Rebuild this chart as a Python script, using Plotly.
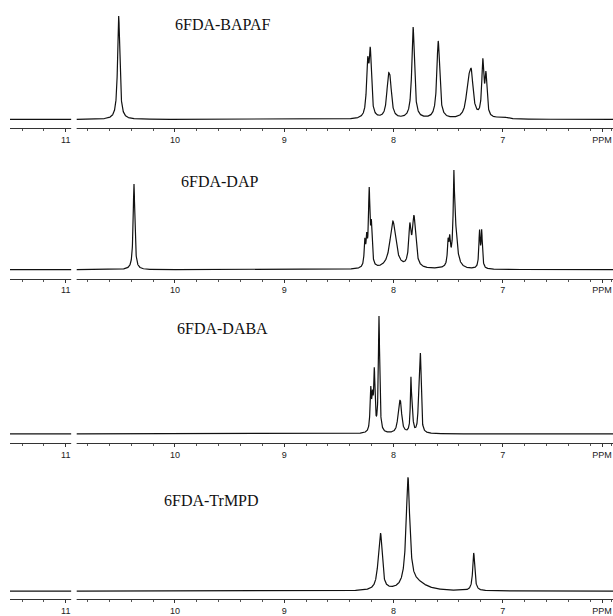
import numpy as np
import plotly.graph_objects as go

# ---------------- data ----------------
titles = ["6FDA-BAPAF", "6FDA-DAP", "6FDA-DABA", "6FDA-TrMPD"]

tick_vals = [11, 10, 9, 8, 7, 6.09]
tick_text = ["11", "10", "9", "8", "7", "PPM"]
ppm_start, ppm_end = 11.51, 5.99
scan_gap_ppm = (10.95, 10.90)

# peak tables: chemical shift (ppm), height (a.u.), half width (ppm)
bapaf_ppm = [10.515, 8.236, 8.212, 8.048, 8.030, 7.82, 7.59, 7.315, 7.287, 7.182, 7.153, 7.0]
bapaf_height = [104, 50, 62, 32, 28, 92, 78, 30, 38, 54, 40, 2]
bapaf_width = [0.012, 0.012, 0.012, 0.016, 0.016, 0.014, 0.015, 0.022, 0.020, 0.011, 0.011, 0.05]

dap_ppm = [10.375, 8.262, 8.245, 8.222, 8.202, 8.005, 7.85, 7.812, 7.50, 7.485, 7.447, 7.437, 7.212, 7.192]
dap_height = [86, 24, 24, 74, 38, 48, 36, 50, 22, 22, 62, 44, 36, 36]
dap_width = [0.009, 0.007, 0.007, 0.008, 0.008, 0.032, 0.012, 0.018, 0.007, 0.007, 0.006, 0.022, 0.007, 0.007]

daba_ppm = [8.208, 8.192, 8.175, 8.132, 7.949, 7.934, 7.840, 7.828, 7.766, 7.753]
daba_height = [40, 28, 58, 116, 22, 22, 50, 22, 46, 70]
daba_width = [0.007, 0.007, 0.007, 0.007, 0.013, 0.013, 0.006, 0.007, 0.007, 0.007]

trmpd_ppm = [8.135, 8.117, 7.867, 7.78, 7.265]
trmpd_height = [16, 48, 110, 7, 38]
trmpd_width = [0.02, 0.016, 0.020, 0.10, 0.011]

peak_tables = [
    (bapaf_ppm, bapaf_height, bapaf_width),
    (dap_ppm, dap_height, dap_width),
    (daba_ppm, daba_height, daba_width),
    (trmpd_ppm, trmpd_height, trmpd_width),
]

# ---------------- layout (pixel geometry) ----------------
W, H = 613, 616
# per panel: top of plot area, axis-line y, baseline y (pixels from top)
panel_top = [0, 150, 300, 460]
panel_axis = [129, 280, 445, 602]
panel_base = [120, 271, 436, 594]
title_xy = [(223, 25), (219, 182), (222, 330), (211, 503)]

x = np.linspace(ppm_start, ppm_end, 5000)

fig = go.Figure()
for i, (pp, hh, ww) in enumerate(peak_tables):
    y = np.zeros_like(x)
    for p, h, w in zip(pp, hh, ww):
        y += h * w * w / ((x - p) ** 2 + w * w)
    y[(x < scan_gap_ppm[0]) & (x > scan_gap_ppm[1])] = np.nan
    n = "" if i == 0 else str(i + 1)
    fig.add_trace(go.Scatter(x=x, y=y, mode="lines", xaxis="x" + n, yaxis="y" + n,
                             line=dict(color="#111111", width=1.2), connectgaps=False,
                             showlegend=False, hoverinfo="skip"))
    top, ax_y, base = panel_top[i], panel_axis[i], panel_base[i]
    dom = [1 - ax_y / H, 1 - top / H]
    off = ax_y - base
    fig.layout["xaxis" + n] = dict(
        domain=[10 / W, 1], range=[ppm_start, ppm_end], anchor="y" + n,
        showline=True, linecolor="#333333", linewidth=1, showgrid=False, zeroline=False,
        tickmode="array", tickvals=tick_vals, ticktext=tick_text,
        ticks="outside", ticklen=3, tickcolor="#333333", tickwidth=1,
        minor=dict(dtick=0.2, ticks="outside", ticklen=2, tickcolor="#555555", showgrid=False),
        tickfont=dict(family="Liberation Sans", size=9, color="#222222"),
    )
    fig.layout["yaxis" + n] = dict(
        domain=dom, range=[-off, (ax_y - top) - off], anchor="x" + n,
        visible=False, showgrid=False, zeroline=False,
    )
    tx, ty = title_xy[i]
    fig.add_annotation(text=titles[i], x=tx / W, y=1 - ty / H, xref="paper", yref="paper",
                       showarrow=False, xanchor="center", yanchor="middle",
                       font=dict(family="Liberation Serif", size=16, color="#111111"))
    # scan splice gap in the axis line
    fig.add_shape(type="rect", xref="x" + n, yref="paper",
                  x0=scan_gap_ppm[0], x1=scan_gap_ppm[1],
                  y0=1 - (ax_y + 1.5) / H, y1=1 - (ax_y - 1.5) / H,
                  fillcolor="white", line=dict(width=0), layer="above")

fig.update_layout(width=W, height=H, margin=dict(l=0, r=0, t=0, b=0),
                  paper_bgcolor="white", plot_bgcolor="white")
fig.write_html("out.html")
